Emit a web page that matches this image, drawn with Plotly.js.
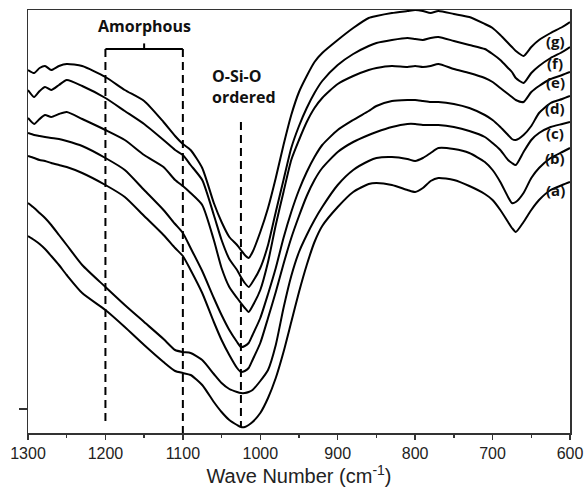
<!DOCTYPE html>
<html>
<head>
<meta charset="utf-8">
<script src="https://cdn.plot.ly/plotly-3.0.1.min.js"></script>
<style>html,body{margin:0;padding:0;background:#fff;}#chart{width:585px;height:493px;}</style>
</head>
<body>
<div id="chart"></div>
<script>
// Wave numbers (cm^-1) shared by all spectra
const waveNumber = [1300,1292,1285,1278,1270,1260,1250,1230,1200,1175,1150,1125,1110,1100,1090,1075,1060,1050,1040,1030,1025,1020,1015,1010,1000,990,980,970,960,950,940,930,920,900,880,860,850,830,810,800,790,780,770,750,730,710,700,690,680,675,670,660,650,640,625,610,600];

// Transmittance (arbitrary units, stacked) for each sample
const specA = [197,193,189,184,177,168,158,140,123,106,88,71,62,60,58,48,31,21,13,8,6,6,8,11,20,35,55,81,111,141,168,191,207,226,241,249,250,248,243,241,245,252,255,253,247,239,233,223,211,205,201,211,223,233,243,248,251];
const specB = [230,225,220,215,208,198,188,168,146,128,111,94,83,81,80,73,59,50,44,41,40,40,41,43,52,63,88,125,157,181,198,213,226,248,263,272,275,276,274,272,275,280,285,284,280,271,263,251,236,230,231,240,255,265,275,281,285];
const specC = [277,275,273,272,270,268,266,260,248,236,217,198,185,177,163,140,111,93,78,65,61,62,65,73,90,115,141,169,195,217,237,253,265,281,291,298,301,306,309,309,308,308,308,306,302,296,290,283,273,270,268,281,293,300,306,309,311];
const specD = [300,298,297,296,295,294,292,287,275,263,243,223,209,200,185,162,135,118,103,91,86,87,90,98,115,139,165,195,221,243,261,276,288,303,313,322,327,332,333,333,332,331,331,329,325,318,313,306,298,294,293,298,307,320,330,334,337];
const specE = [315,309,314,318,316,319,321,314,303,293,278,266,253,247,240,228,193,165,146,135,130,125,121,127,143,171,208,241,273,293,311,325,335,349,357,363,365,367,366,367,366,367,369,364,360,355,351,345,339,336,333,331,341,347,354,358,361];
const specF = [343,336,342,346,343,348,353,347,335,322,309,293,283,278,268,253,218,193,174,163,156,150,146,151,165,188,221,253,285,307,325,340,352,368,379,387,390,393,395,394,393,395,396,392,388,384,379,373,365,361,355,350,360,367,375,381,386];
const specG = [363,360,365,367,363,367,369,367,356,343,332,311,297,289,283,265,230,211,196,188,183,178,175,181,201,225,255,288,318,341,357,371,380,393,405,415,417,420,422,423,422,420,422,419,416,409,405,398,390,386,382,377,386,393,400,406,411];

const sampleLabels = ['(a)','(b)','(c)','(d)','(e)','(f)','(g)'];
const spectra = [specA,specB,specC,specD,specE,specF,specG];

// Band markers (cm^-1)
const amorphousBand = [1200, 1100];
const orderedBand = 1025;

const traces = spectra.map((s, i) => ({
  x: waveNumber, y: s, type: 'scatter', mode: 'lines',
  line: {color: '#000', width: 2, shape: 'spline', smoothing: 0.6},
  name: sampleLabels[i], hoverinfo: 'skip'
}));

const dashLine = {color: '#000', width: 2, dash: '8px,5px'};
const shapes = [
  {type:'line', xref:'x', yref:'paper', x0: amorphousBand[0], x1: amorphousBand[0], y0: 0.908, y1: 0.019, line: dashLine},
  {type:'line', xref:'x', yref:'paper', x0: amorphousBand[1], x1: amorphousBand[1], y0: 0.908, y1: 0.0, line: dashLine},
  {type:'line', xref:'x', yref:'paper', x0: amorphousBand[0], x1: amorphousBand[1], y0: 0.908, y1: 0.908, line: {color:'#000', width: 2}},
  {type:'line', xref:'x', yref:'paper', x0: (amorphousBand[0]+amorphousBand[1])/2, x1: (amorphousBand[0]+amorphousBand[1])/2, y0: 0.908, y1: 0.921, line: {color:'#000', width: 2}},
  {type:'line', xref:'x', yref:'paper', x0: orderedBand, x1: orderedBand, y0: 0.735, y1: 0.014, line: dashLine}
];

const labelPaperY = [0.574, 0.650, 0.709, 0.768, 0.830, 0.875, 0.927];
const boldFont = 'Open Sans, Lato, sans-serif';
const annotations = sampleLabels.map((t, i) => ({
  x: 619, xref: 'x', y: labelPaperY[i], yref: 'paper', text: '<b>' + t + '</b>',
  showarrow: false, xanchor: 'center', yanchor: 'middle',
  font: {family: boldFont, size: 15, color: '#111'}
}));
annotations.push({x: 1150, xref: 'x', y: 0.963, yref: 'paper', text: '<b>Amorphous</b>', showarrow: false, xanchor: 'center', yanchor: 'middle', font: {family: boldFont, size: 16, color: '#111'}});
annotations.push({x: 1065, xref: 'x', y: 0.82, yref: 'paper', text: '<b>O-Si-O</b><br><b>ordered</b>', showarrow: false, xanchor: 'left', yanchor: 'middle', align: 'left', font: {family: boldFont, size: 16, color: '#111'}});

const layout = {
  width: 585, height: 493,
  margin: {l: 28, r: 15, t: 10, b: 60},
  paper_bgcolor: '#fff', plot_bgcolor: '#fff',
  showlegend: false,
  xaxis: {
    range: [1300, 600], dtick: 100, tick0: 600,
    ticks: 'outside', ticklen: 5, tickwidth: 1.5, tickcolor: '#333',
    minor: {dtick: 50, ticks: 'outside', ticklen: 3, tickwidth: 1.5, tickcolor: '#333'},
    showline: true, linecolor: '#333', linewidth: 1.5, mirror: true,
    showgrid: false, zeroline: false,
    tickfont: {family: 'Liberation Sans, Arial, sans-serif', size: 16, color: '#222'},
    title: {text: 'Wave Number (cm<sup>-1</sup>)', font: {family: 'Liberation Sans, Arial, sans-serif', size: 20, color: '#222'}, standoff: 6}
  },
  yaxis: {
    range: [0, 423], tickvals: [24], showticklabels: false,
    ticks: 'outside', ticklen: 8, tickwidth: 1.5, tickcolor: '#333',
    showline: true, linecolor: '#333', linewidth: 1.5, mirror: true,
    showgrid: false, zeroline: false
  },
  shapes: shapes,
  annotations: annotations
};

Plotly.newPlot('chart', traces, layout, {displayModeBar: false, staticPlot: true});
</script>
</body>
</html>
